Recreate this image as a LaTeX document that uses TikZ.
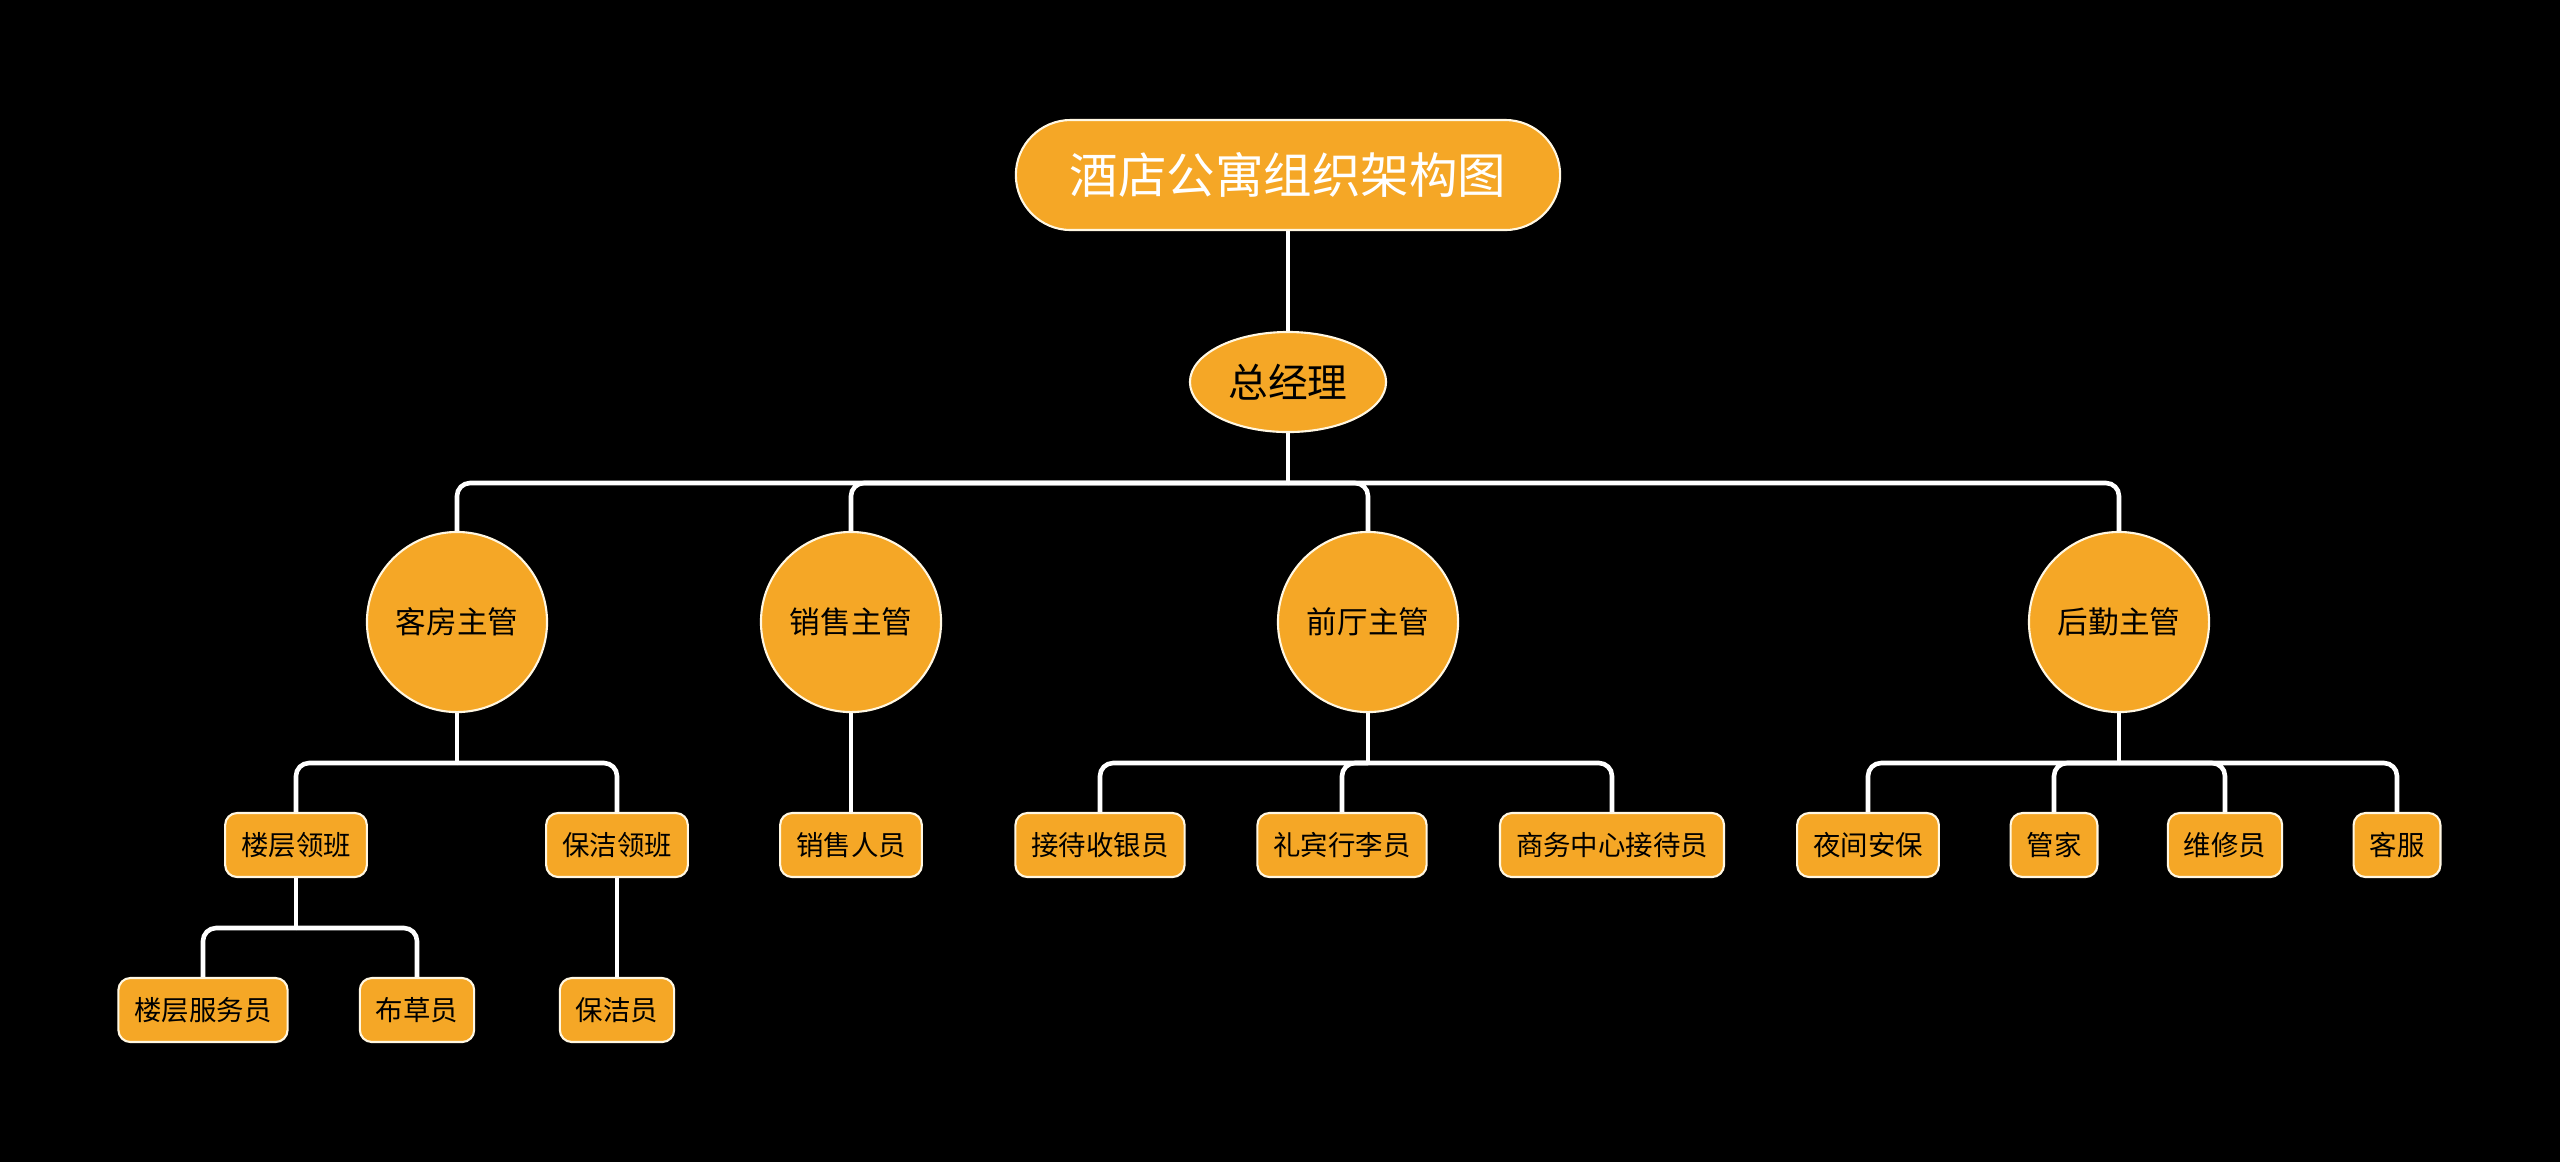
\documentclass[tikz,border=0pt]{standalone}
\usepackage{fontspec}
\newfontfamily\cjk{Noto Sans CJK SC}
\usepackage{tikz}
\usetikzlibrary{calc}
\usetikzlibrary{shapes.geometric}

\definecolor{boxorange}{RGB}{245,167,38}
\definecolor{rimcream}{RGB}{255,247,226}

\tikzset{
    titlebox/.style={draw=rimcream, line width=0.6pt, fill=boxorange, text=white,
        rounded corners=0.55cm, minimum width=5.44cm, minimum height=1.1cm,
        font=\cjk\fontsize{13.8}{16}\selectfont},
    gmbox/.style={ellipse, draw=rimcream, line width=0.6pt, fill=boxorange,
        inner sep=0pt, minimum width=1.96cm, minimum height=1.0cm,
        font=\cjk\fontsize{11.3}{13}\selectfont},
    supbox/.style={circle, draw=rimcream, line width=0.6pt, fill=boxorange,
        inner sep=0pt, minimum size=1.8cm,
        font=\cjk\fontsize{8.7}{10}\selectfont},
    staffbox/.style={draw=rimcream, line width=0.6pt, fill=boxorange,
        rounded corners=0.12cm, inner xsep=0.16cm, inner ysep=0pt, minimum height=0.64cm,
        font=\cjk\fontsize{7.8}{9}\selectfont},
    link/.style={draw=white, line width=1.3pt, rounded corners=0.13cm}
}

\begin{document}
\begin{tikzpicture}[x=0.01cm, y=-0.01cm]
            \fill[black] (0,0) rectangle (2560,1162);
            \useasboundingbox (0,0) rectangle (2560,1162);

            \draw (1288,175) node[titlebox] (root) {酒店公寓组织架构图};
            \draw ($(root) + (0,207)$) node[gmbox] (gm) {总经理};

            \draw ($(gm) + (-831,240)$) node[supbox] (S1) {客房主管};
            \draw ($(gm) + (-437,240)$) node[supbox] (S2) {销售主管};
            \draw ($(gm) + (80,240)$) node[supbox] (S3) {前厅主管};
            \draw ($(gm) + (831,240)$) node[supbox] (S4) {后勤主管};

            \draw ($(S1) + (-161,223)$) node[staffbox] (S11) {楼层领班};
            \draw ($(S1) + (160,223)$) node[staffbox] (S12) {保洁领班};
            \draw ($(S2) + (0,223)$) node[staffbox] (S21) {销售人员};
            \draw ($(S3) + (-268,223)$) node[staffbox] (S31) {接待收银员};
            \draw ($(S3) + (-26,223)$) node[staffbox] (S32) {礼宾行李员};
            \draw ($(S3) + (244,223)$) node[staffbox] (S33) {商务中心接待员};
            \draw ($(S4) + (-251,223)$) node[staffbox] (S41) {夜间安保};
            \draw ($(S4) + (-65,223)$) node[staffbox] (S42) {管家};
            \draw ($(S4) + (106,223)$) node[staffbox] (S43) {维修员};
            \draw ($(S4) + (278,223)$) node[staffbox] (S44) {客服};

            \draw ($(S11) + (-93,165)$) node[staffbox] (S111) {楼层服务员};
            \draw ($(S11) + (121,165)$) node[staffbox] (S112) {布草员};
            \draw ($(S12) + (0,165)$) node[staffbox] (S121) {保洁员};

            \coordinate (B0) at ($(gm) + (0,101)$);
            \coordinate (B1) at ($(S1) + (0,141)$);
            \coordinate (B3) at ($(S3) + (0,141)$);
            \coordinate (B4) at ($(S4) + (0,141)$);
            \coordinate (B11) at ($(S11) + (0,83)$);

            \draw[link] (root.south) -- (gm.north);
            \draw[link] (gm.south) -- (B0);
            \draw[link] (B0) -| (S1.north);
            \draw[link] (B0) -| (S2.north);
            \draw[link] (B0) -| (S3.north);
            \draw[link] (B0) -| (S4.north);

            \draw[link] (S1.south) -- (B1);
            \draw[link] (B1) -| (S11.north);
            \draw[link] (B1) -| (S12.north);
            \draw[link] (S2.south) -- (S21.north);
            \draw[link] (S3.south) -- (B3);
            \draw[link] (B3) -| (S31.north);
            \draw[link] (B3) -| (S32.north);
            \draw[link] (B3) -| (S33.north);
            \draw[link] (S4.south) -- (B4);
            \draw[link] (B4) -| (S41.north);
            \draw[link] (B4) -| (S42.north);
            \draw[link] (B4) -| (S43.north);
            \draw[link] (B4) -| (S44.north);

            \draw[link] (S11.south) -- (B11);
            \draw[link] (B11) -| (S111.north);
            \draw[link] (B11) -| (S112.north);
            \draw[link] (S12.south) -- (S121.north);
        \end{tikzpicture}
\end{document}
